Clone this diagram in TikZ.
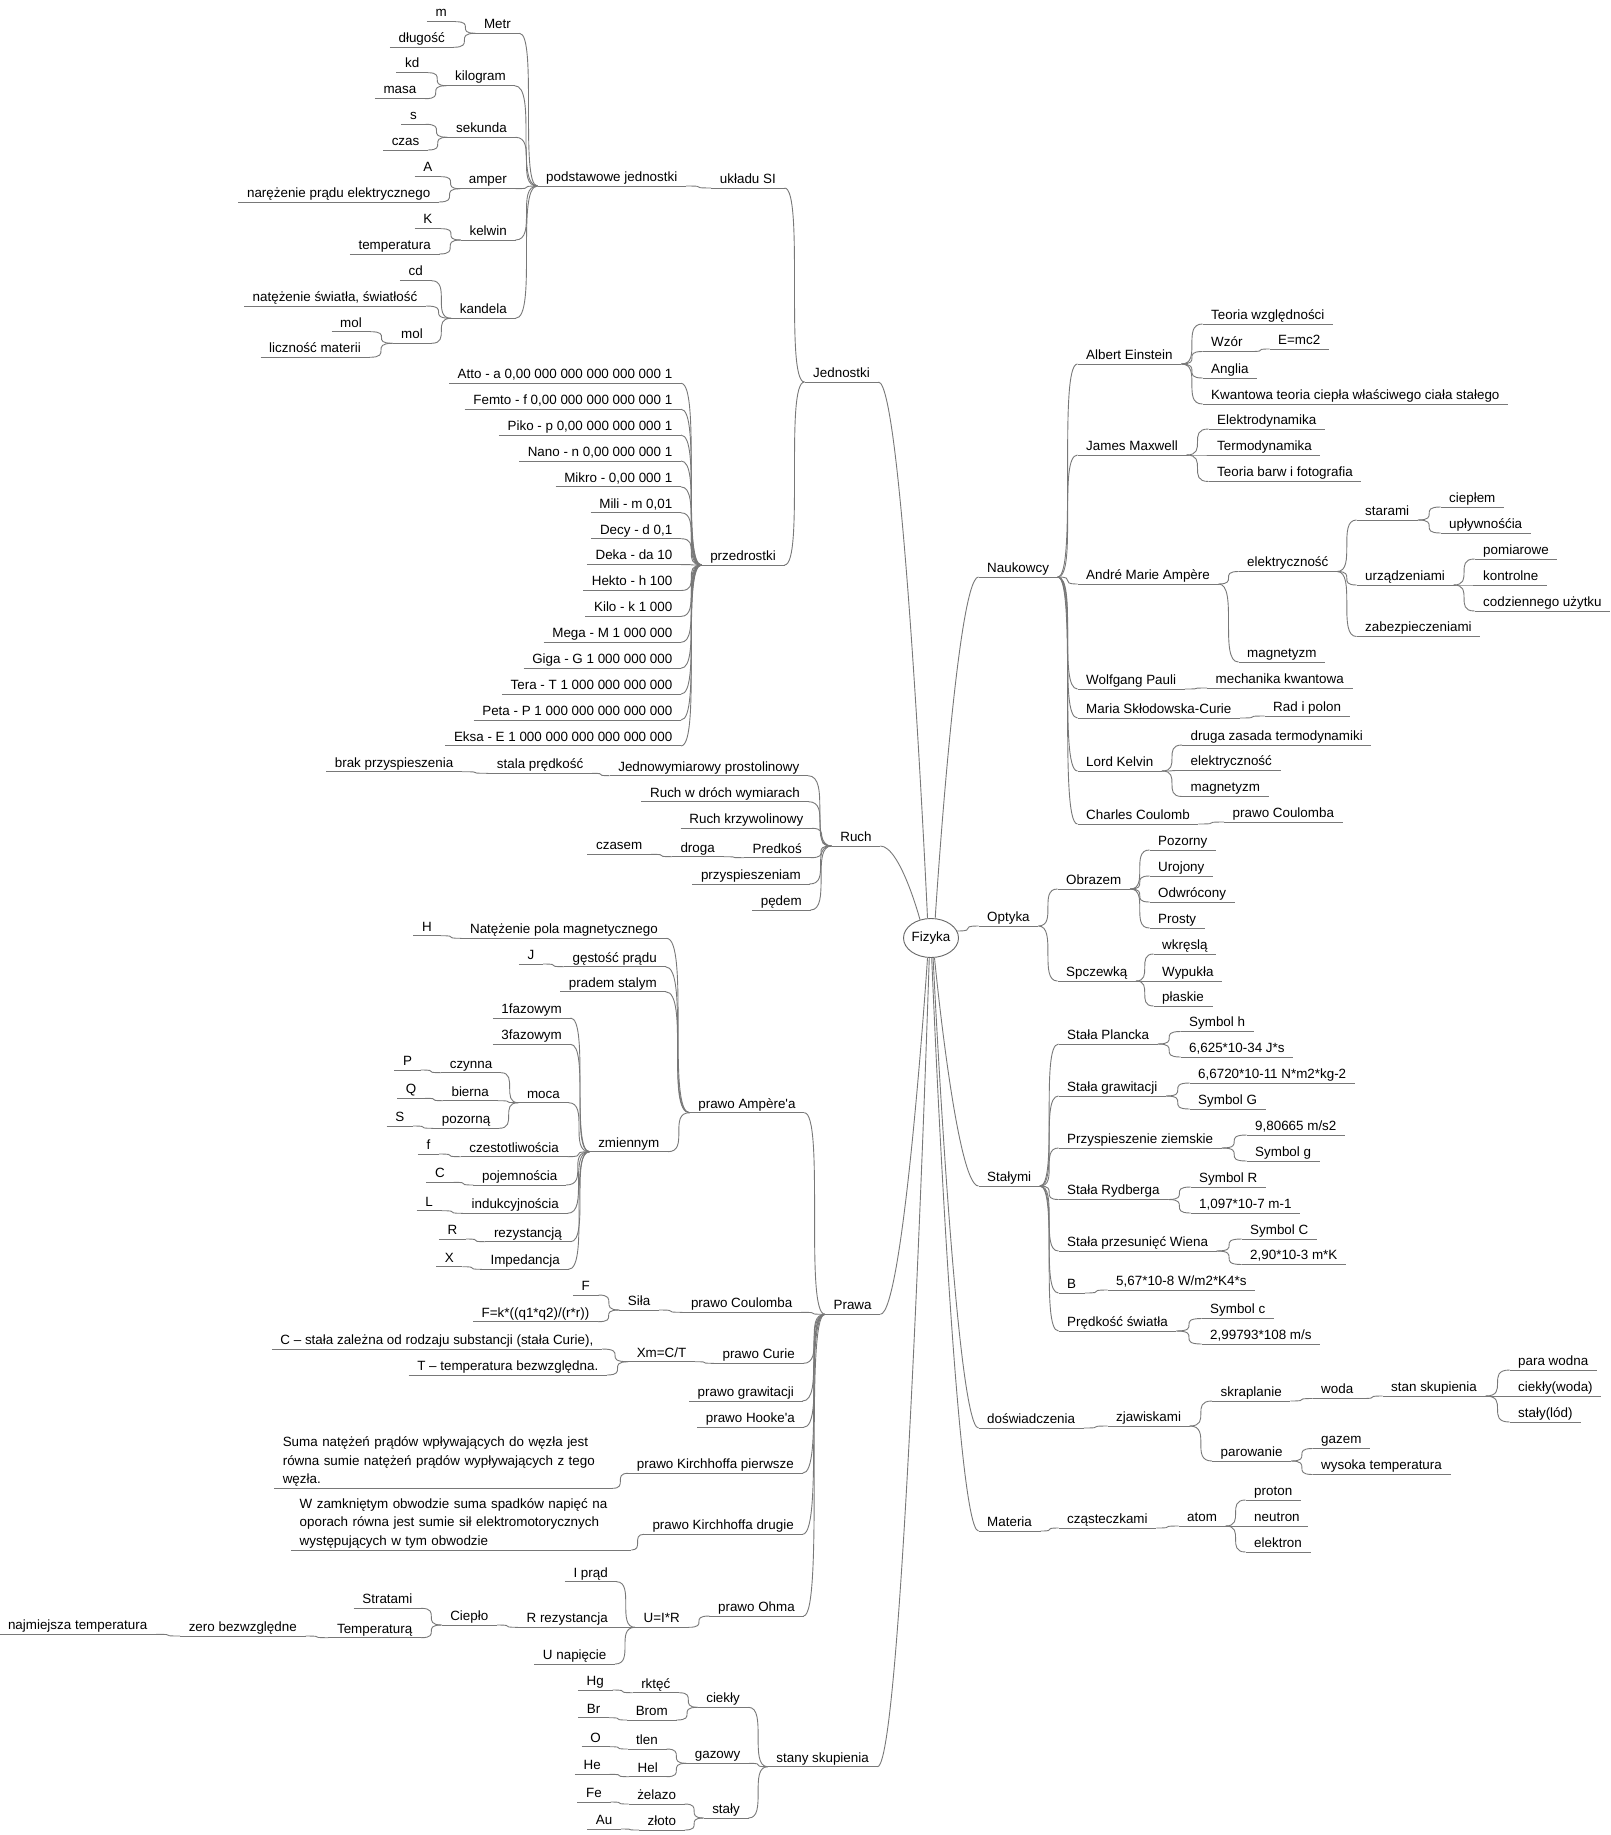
\documentclass[tikz,border=0pt]{standalone}
\usepackage{fontspec}
\newfontfamily\mapff{Liberation Sans}
\usetikzlibrary{shapes.geometric,calc}
\definecolor{lg}{RGB}{120,120,120}
\newcommand\mapfont{\mapff\fontsize{13.4}{18.5}\selectfont}
\newcommand\conR[2]{\draw[conn] (#1.south east) .. controls (#1.south east -| #2.south west) and (#2.south west -| #1.south east) .. (#2.south west);}
\newcommand\conL[2]{\draw[conn] (#1.south west) .. controls (#1.south west -| #2.south east) and (#2.south east -| #1.south west) .. (#2.south east);}
\newcommand\conRoot[3]{\draw[conn] (root.#1) .. controls (root.#1) and ($(root.#1 |- #2.#3)!.5!(#2.#3)$) .. (#2.#3);}
\begin{document}
\begin{tikzpicture}[x=1pt,y=-1pt,
 conn/.style={draw=lg,line width=0.9pt},
 ul/.style={draw=lg,line width=0.9pt},
 mnode/.style={font=\mapfont,inner xsep=8.5pt,inner ysep=1.5pt,text height=9.6pt,text depth=3pt,
   append after command={(\tikzlastnode.south west) edge[ul] (\tikzlastnode.south east)}},
 rnode/.style={mnode,anchor=south west},
 lnode/.style={mnode,anchor=south east},
 mnote/.style={font=\mapfont,inner xsep=8.5pt,inner ysep=1.5pt,align=left,anchor=south east,
   append after command={(\tikzlastnode.south west) edge[ul] (\tikzlastnode.south east)}},
]
\fill[white] (0,0) rectangle (1610,1835);
\useasboundingbox (0,0) rectangle (1610,1835);

% ---------- root ----------
\node[ellipse,draw=black!60,line width=0.9pt,minimum width=55pt,minimum height=39pt,inner sep=0pt,font=\mapfont] (root) at (931,938) {Fizyka};

% ---------- Naukowcy ----------
\node[rnode] (nauk) at (978.5,577) {Naukowcy};
\node[rnode] (ein) at (1077.5,364) {Albert Einstein};
\node[rnode] (max) at (1077.5,455) {James Maxwell};
\node[rnode] (amp) at (1077.5,584) {André Marie Ampère};
\node[rnode] (pau) at (1077.5,689) {Wolfgang Pauli};
\node[rnode] (cur) at (1077.5,718) {Maria Skłodowska-Curie};
\node[rnode] (kel) at (1077.5,771) {Lord Kelvin};
\node[rnode] (cou) at (1077.5,824) {Charles Coulomb};
\node[rnode] (ein1) at (1202.5,324) {Teoria względności};
\node[rnode] (ein2) at (1202.5,351.5) {Wzór};
\node[rnode] (ein2a) at (1269.5,349) {E=mc2};
\node[rnode] (ein3) at (1202.5,378) {Anglia};
\node[rnode] (ein4) at (1202.5,404) {Kwantowa teoria ciepła właściwego ciała stałego};
\node[rnode] (max1) at (1208.5,429) {Elektrodynamika};
\node[rnode] (max2) at (1208.5,455) {Termodynamika};
\node[rnode] (max3) at (1208.5,481.5) {Teoria barw i fotografia};
\node[rnode] (amp1) at (1238.5,571.5) {elektryczność};
\node[rnode] (amp2) at (1238.5,662) {magnetyzm};
\node[rnode] (el1) at (1356.5,520) {starami};
\node[rnode] (el2) at (1356.5,585) {urządzeniami};
\node[rnode] (el3) at (1356.5,636.5) {zabezpieczeniami};
\node[rnode] (st1) at (1440.5,507) {ciepłem};
\node[rnode] (st2) at (1440.5,533) {upływnośćia};
\node[rnode] (ur1) at (1474.5,559) {pomiarowe};
\node[rnode] (ur2) at (1474.5,585) {kontrolne};
\node[rnode] (ur3) at (1474.5,611) {codziennego użytku};
\node[rnode] (pau1) at (1207,688) {mechanika kwantowa};
\node[rnode] (cur1) at (1264.5,716) {Rad i polon};
\node[rnode] (kel1) at (1182,745) {druga zasada termodynamiki};
\node[rnode] (kel2) at (1182,770.5) {elektryczność};
\node[rnode] (kel3) at (1182,796.5) {magnetyzm};
\node[rnode] (cou1) at (1224,822) {prawo Coulomba};

% ---------- Optyka ----------
\node[rnode] (opt) at (978.5,926) {Optyka};
\node[rnode] (obr) at (1057.5,889) {Obrazem};
\node[rnode] (spc) at (1057.5,981) {Spczewką};
\node[rnode] (obr1) at (1149.5,850) {Pozorny};
\node[rnode] (obr2) at (1149.5,876) {Urojony};
\node[rnode] (obr3) at (1149.5,902) {Odwrócony};
\node[rnode] (obr4) at (1149.5,928) {Prosty};
\node[rnode] (spc1) at (1153.5,954) {wkręslą};
\node[rnode] (spc2) at (1153.5,981) {Wypukła};
\node[rnode] (spc3) at (1153.5,1006) {płaskie};

% ---------- Stałymi ----------
\node[rnode] (stal) at (978.5,1186) {Stałymi};
\node[rnode] (s1) at (1058.5,1044) {Stała Plancka};
\node[rnode] (s1a) at (1180.5,1031.5) {Symbol h};
\node[rnode] (s1b) at (1180.5,1057) {6,625*10-34 J*s};
\node[rnode] (s2) at (1058.5,1096) {Stała grawitacji};
\node[rnode] (s2a) at (1189.5,1083) {6,6720*10-11 N*m2*kg-2};
\node[rnode] (s2b) at (1189.5,1109) {Symbol G};
\node[rnode] (s3) at (1058.5,1148) {Przyspieszenie ziemskie};
\node[rnode] (s3a) at (1246.5,1135) {9,80665 m/s2};
\node[rnode] (s3b) at (1246.5,1161) {Symbol g};
\node[rnode] (s4) at (1058.5,1199.5) {Stała Rydberga};
\node[rnode] (s4a) at (1190.5,1187) {Symbol R};
\node[rnode] (s4b) at (1190.5,1213) {1,097*10-7 m-1};
\node[rnode] (s5) at (1058.5,1251) {Stała przesunięć Wiena};
\node[rnode] (s5a) at (1241.5,1239) {Symbol C};
\node[rnode] (s5b) at (1241.5,1264.5) {2,90*10-3 m*K};
\node[rnode] (s6) at (1058.5,1293) {B};
\node[rnode] (s6a) at (1107.5,1290) {5,67*10-8 W/m2*K4*s};
\node[rnode] (s7) at (1058.5,1331) {Prędkość światła};
\node[rnode] (s7a) at (1201.5,1318.5) {Symbol c};
\node[rnode] (s7b) at (1201.5,1344) {2,99793*108 m/s};

% ---------- doświadczenia ----------
\node[rnode] (dos) at (978.5,1428) {doświadczenia};
\node[rnode] (zja) at (1107.5,1426) {zjawiskami};
\node[rnode] (skr) at (1212,1401) {skraplanie};
\node[rnode] (wod) at (1312.5,1398.5) {woda};
\node[rnode] (sta) at (1382.5,1396) {stan skupienia};
\node[rnode] (sta1) at (1509.5,1370) {para wodna};
\node[rnode] (sta2) at (1509.5,1396) {ciekły(woda)};
\node[rnode] (sta3) at (1509.5,1422) {stały(lód)};
\node[rnode] (par) at (1212,1461) {parowanie};
\node[rnode] (par1) at (1312.5,1448.5) {gazem};
\node[rnode] (par2) at (1312.5,1474.5) {wysoka temperatura};

% ---------- Materia ----------
\node[rnode] (mat) at (978.5,1531) {Materia};
\node[rnode] (cza) at (1058.5,1528) {cząsteczkami};
\node[rnode] (ato) at (1178.5,1526) {atom};
\node[rnode] (ato1) at (1245.5,1500) {proton};
\node[rnode] (ato2) at (1245.5,1526) {neutron};
\node[rnode] (ato3) at (1245.5,1552) {elektron};

% ---------- Jednostki ----------
\node[lnode] (jed) at (878.5,382) {Jednostki};
\node[lnode] (si) at (784.5,188) {układu SI};
\node[lnode] (pod) at (686,186) {podstawowe jednostki};
\node[lnode] (metr) at (519.5,33.3) {Metr};
\node[lnode] (nm) at (455.5,21.7) {m};
\node[lnode] (dl) at (453.5,47.3) {długość};
\node[lnode] (kg) at (514.5,85.7) {kilogram};
\node[lnode] (kd) at (428,72.7) {kd};
\node[lnode] (masa) at (425,98.7) {masa};
\node[lnode] (sek) at (515.5,137.3) {sekunda};
\node[lnode] (ns) at (425.5,124.3) {s};
\node[lnode] (czas) at (428,150) {czas};
\node[lnode] (amper) at (515.5,188.7) {amper};
\node[lnode] (nA) at (441,176.7) {A};
\node[lnode] (nar) at (439,202) {narężenie prądu elektrycznego};
\node[lnode] (kelw) at (515.5,240) {kelwin};
\node[lnode] (nK) at (441,228.7) {K};
\node[lnode] (temp) at (439.5,254) {temperatura};
\node[lnode] (kand) at (515.5,318.3) {kandela};
\node[lnode] (cd) at (431.5,280.7) {cd};
\node[lnode] (nat) at (426,306) {natężenie światła, światłość};
\node[lnode] (molm) at (431.5,343.3) {mol};
\node[lnode] (mol1) at (370.5,331.7) {mol};
\node[lnode] (licz) at (369.5,357.3) {liczność materii};
\node[lnode] (przed) at (784.5,565) {przedrostki};
\foreach \t [count=\i] in {{Atto - a 0,00 000 000 000 000 000 1},{Femto - f 0,00 000 000 000 000 1},{Piko - p 0,00 000 000 000 1},{Nano - n 0,00 000 000 1},{Mikro - 0,00 000 1},{Mili - m 0,01},{Decy - d 0,1},{Deka - da 10},{Hekto - h 100},{Kilo - k 1 000},{Mega - M 1 000 000},{Giga - G 1 000 000 000},{Tera - T 1 000 000 000 000},{Peta - P 1 000 000 000 000 000},{Eksa - E 1 000 000 000 000 000 000}}
  {\node[lnode] (p\i) at (681,{383.3+25.9*(\i-1)}) {\t};}

% ---------- Ruch ----------
\node[lnode] (ruch) at (880.3,846) {Ruch};
\node[lnode] (r1) at (808,775.7) {Jednowymiarowy prostolinowy};
\node[lnode] (r1a) at (592,773.3) {stala prędkość};
\node[lnode] (r1b) at (462,771.7) {brak przyspieszenia};
\node[lnode] (r2) at (808.5,801.7) {Ruch w dróch wymiarach};
\node[lnode] (r3) at (812,828.3) {Ruch krzywolinowy};
\node[lnode] (r4) at (810.5,857.7) {Predkoś};
\node[lnode] (r4a) at (723.5,856.7) {droga};
\node[lnode] (r4b) at (651,854.3) {czasem};
\node[lnode] (r5) at (809.5,884) {przyspieszeniam};
\node[lnode] (r6) at (810.5,910) {pędem};

% ---------- Prawa ----------
\node[lnode] (prawa) at (880.3,1314.3) {Prawa};
\node[lnode] (pa) at (804.2,1112.7) {prawo Ampère'a};
\node[lnode] (pa1) at (666.5,938.3) {Natężenie pola magnetycznego};
\node[lnode] (pa1a) at (440.5,935.7) {H};
\node[lnode] (pa2) at (665.5,966.7) {gęstość prądu};
\node[lnode] (pa2a) at (543,964) {J};
\node[lnode] (pa3) at (665.5,991.7) {pradem stalym};
\node[lnode] (pa4) at (668,1151.7) {zmiennym};
\node[lnode] (z1) at (570.5,1018) {1fazowym};
\node[lnode] (z2) at (570.5,1044.3) {3fazowym};
\node[lnode] (z3) at (568.5,1102.7) {moca};
\node[lnode] (m1) at (501,1072.7) {czynna};
\node[lnode] (m1a) at (420.7,1070) {P};
\node[lnode] (m2) at (497.5,1100.7) {bierna};
\node[lnode] (m2a) at (425,1098.3) {Q};
\node[lnode] (m3) at (499,1128.3) {pozorną};
\node[lnode] (m3a) at (413,1126) {S};
\node[lnode] (z4) at (567.5,1156.7) {czestotliwościa};
\node[lnode] (z4a) at (439,1154) {f};
\node[lnode] (z5) at (566,1185) {pojemnościa};
\node[lnode] (z5a) at (453.5,1182.3) {C};
\node[lnode] (z6) at (567.5,1213.3) {indukcyjnościa};
\node[lnode] (z6a) at (441.5,1210.7) {L};
\node[lnode] (z7) at (570.5,1241.7) {rezystancją};
\node[lnode] (z7a) at (466,1239) {R};
\node[lnode] (z8) at (568.5,1269.3) {Impedancja};
\node[lnode] (z8a) at (462.4,1266.7) {X};
\node[lnode] (pc) at (801,1312.3) {prawo Coulomba};
\node[lnode] (pc1) at (659,1310) {Siła};
\node[lnode] (pc1a) at (598.5,1295) {F};
\node[lnode] (pc1b) at (598,1321.7) {F=k*((q1*q2)/(r*r))};
\node[lnode] (pcu) at (803.5,1363.3) {prawo Curie};
\node[lnode] (pcu1) at (695,1361.7) {Xm=C/T};
\node[lnode] (pcu1a) at (602,1349) {C – stała zależna od rodzaju substancji (stała Curie),};
\node[lnode] (pcu1b) at (607,1375) {T – temperatura bezwzględna.};
\node[lnode] (pg) at (802.5,1401) {prawo grawitacji};
\node[lnode] (ph) at (803.5,1427.3) {prawo Hooke'a};
\node[lnode] (pk1) at (802.5,1473.3) {prawo Kirchhoffa pierwsze};
\node[mnote,text width=321pt] (pk1a) at (612.5,1488.3) {Suma natężeń prądów wpływających do węzła jest\\równa sumie natężeń prądów wypływających z tego\\węzła.\rule[-3pt]{0pt}{3pt}};
\node[lnode] (pk2) at (802.5,1534.3) {prawo Kirchhoffa drugie};
\node[mnote,text width=323pt] (pk2a) at (631.4,1550) {W zamkniętym obwodzie suma spadków napięć na\\oporach równa jest sumie sił elektromotorycznych\\występujących w tym obwodzie\rule[-3pt]{0pt}{3pt}};
\node[lnode] (po) at (803.5,1616) {prawo Ohma};
\node[lnode] (po1) at (688.5,1627.3) {U=I*R};
\node[lnode] (po1a) at (616.5,1581.7) {I prąd};
\node[lnode] (po1b) at (616.5,1627.3) {R rezystancja};
\node[lnode] (cie) at (497,1625) {Ciepło};
\node[lnode] (cie1) at (421,1608.3) {Stratami};
\node[lnode] (cie2) at (421,1637.7) {Temperaturą};
\node[lnode] (zer) at (305.5,1636) {zero bezwzględne};
\node[lnode] (naj) at (156,1634.3) {najmiejsza temperatura};
\node[lnode] (po1c) at (615,1664) {U napięcie};

% ---------- stany skupienia ----------
\node[lnode] (ss) at (877.5,1766.7) {stany skupienia};
\node[lnode] (ss1) at (748.5,1707.3) {ciekły};
\node[lnode] (ss1a) at (679,1692.7) {rktęć};
\node[lnode] (ss1aa) at (612.5,1690) {Hg};
\node[lnode] (ss1b) at (676.5,1720) {Brom};
\node[lnode] (ss1ba) at (609,1717.7) {Br};
\node[lnode] (ss2) at (749,1763.3) {gazowy};
\node[lnode] (ss2a) at (666.5,1749) {tlen};
\node[lnode] (ss2aa) at (609.5,1746.7) {O};
\node[lnode] (ss2b) at (666.5,1776.7) {Hel};
\node[lnode] (ss2ba) at (609.5,1774.3) {He};
\node[lnode] (ss3) at (748.5,1818) {stały};
\node[lnode] (ss3a) at (684.7,1804) {żelazo};
\node[lnode] (ss3aa) at (610.5,1802) {Fe};
\node[lnode] (ss3b) at (684.7,1830) {złoto};
\node[lnode] (ss3ba) at (621,1829) {Au};

% ---------- connectors: root ----------
\conRoot{78}{nauk}{south west}
\conRoot{100}{jed}{south east}
\conRoot{121}{ruch}{south east}
\draw[conn] (root.15) .. controls (root.15 -| opt.south west) and (opt.south west -| root.15) .. (opt.south west);
\conRoot{280}{stal}{south west}
\conRoot{276}{dos}{south west}
\conRoot{272}{mat}{south west}
\conRoot{260}{prawa}{south east}
\conRoot{265}{ss}{south east}

% ---------- connectors: right ----------
\foreach \c in {ein,max,amp,pau,cur,kel,cou} {\conR{nauk}{\c}}
\foreach \c in {ein1,ein2,ein3,ein4} {\conR{ein}{\c}}
\conR{ein2}{ein2a}
\foreach \c in {max1,max2,max3} {\conR{max}{\c}}
\foreach \c in {amp1,amp2} {\conR{amp}{\c}}
\foreach \c in {el1,el2,el3} {\conR{amp1}{\c}}
\foreach \c in {st1,st2} {\conR{el1}{\c}}
\foreach \c in {ur1,ur2,ur3} {\conR{el2}{\c}}
\conR{pau}{pau1}
\conR{cur}{cur1}
\foreach \c in {kel1,kel2,kel3} {\conR{kel}{\c}}
\conR{cou}{cou1}
\foreach \c in {obr,spc} {\conR{opt}{\c}}
\foreach \c in {obr1,obr2,obr3,obr4} {\conR{obr}{\c}}
\foreach \c in {spc1,spc2,spc3} {\conR{spc}{\c}}
\foreach \c in {s1,s2,s3,s4,s5,s6,s7} {\conR{stal}{\c}}
\foreach \c in {s1a,s1b} {\conR{s1}{\c}}
\foreach \c in {s2a,s2b} {\conR{s2}{\c}}
\foreach \c in {s3a,s3b} {\conR{s3}{\c}}
\foreach \c in {s4a,s4b} {\conR{s4}{\c}}
\foreach \c in {s5a,s5b} {\conR{s5}{\c}}
\conR{s6}{s6a}
\foreach \c in {s7a,s7b} {\conR{s7}{\c}}
\conR{dos}{zja}
\foreach \c in {skr,par} {\conR{zja}{\c}}
\conR{skr}{wod}
\conR{wod}{sta}
\foreach \c in {sta1,sta2,sta3} {\conR{sta}{\c}}
\foreach \c in {par1,par2} {\conR{par}{\c}}
\conR{mat}{cza}
\conR{cza}{ato}
\foreach \c in {ato1,ato2,ato3} {\conR{ato}{\c}}

% ---------- connectors: left ----------
\foreach \c in {si,przed} {\conL{jed}{\c}}
\conL{si}{pod}
\foreach \c in {metr,kg,sek,amper,kelw,kand} {\conL{pod}{\c}}
\foreach \c in {nm,dl} {\conL{metr}{\c}}
\foreach \c in {kd,masa} {\conL{kg}{\c}}
\foreach \c in {ns,czas} {\conL{sek}{\c}}
\foreach \c in {nA,nar} {\conL{amper}{\c}}
\foreach \c in {nK,temp} {\conL{kelw}{\c}}
\foreach \c in {cd,nat,molm} {\conL{kand}{\c}}
\foreach \c in {mol1,licz} {\conL{molm}{\c}}
\foreach \i in {1,...,15} {\conL{przed}{p\i}}
\foreach \c in {r1,r2,r3,r4,r5,r6} {\conL{ruch}{\c}}
\conL{r1}{r1a}
\conL{r1a}{r1b}
\conL{r4}{r4a}
\conL{r4a}{r4b}
\foreach \c in {pa,pc,pcu,pg,ph,pk1,pk2,po} {\conL{prawa}{\c}}
\foreach \c in {pa1,pa2,pa3,pa4} {\conL{pa}{\c}}
\conL{pa1}{pa1a}
\conL{pa2}{pa2a}
\foreach \c in {z1,z2,z3,z4,z5,z6,z7,z8} {\conL{pa4}{\c}}
\foreach \c in {m1,m2,m3} {\conL{z3}{\c}}
\conL{m1}{m1a}
\conL{m2}{m2a}
\conL{m3}{m3a}
\conL{z4}{z4a}
\conL{z5}{z5a}
\conL{z6}{z6a}
\conL{z7}{z7a}
\conL{z8}{z8a}
\conL{pc}{pc1}
\foreach \c in {pc1a,pc1b} {\conL{pc1}{\c}}
\conL{pcu}{pcu1}
\foreach \c in {pcu1a,pcu1b} {\conL{pcu1}{\c}}
\conL{pk1}{pk1a}
\conL{pk2}{pk2a}
\conL{po}{po1}
\foreach \c in {po1a,po1b,po1c} {\conL{po1}{\c}}
\conL{po1b}{cie}
\foreach \c in {cie1,cie2} {\conL{cie}{\c}}
\conL{cie2}{zer}
\conL{zer}{naj}
\foreach \c in {ss1,ss2,ss3} {\conL{ss}{\c}}
\foreach \c in {ss1a,ss1b} {\conL{ss1}{\c}}
\conL{ss1a}{ss1aa}
\conL{ss1b}{ss1ba}
\foreach \c in {ss2a,ss2b} {\conL{ss2}{\c}}
\conL{ss2a}{ss2aa}
\conL{ss2b}{ss2ba}
\foreach \c in {ss3a,ss3b} {\conL{ss3}{\c}}
\conL{ss3a}{ss3aa}
\conL{ss3b}{ss3ba}
\end{tikzpicture}
\end{document}
